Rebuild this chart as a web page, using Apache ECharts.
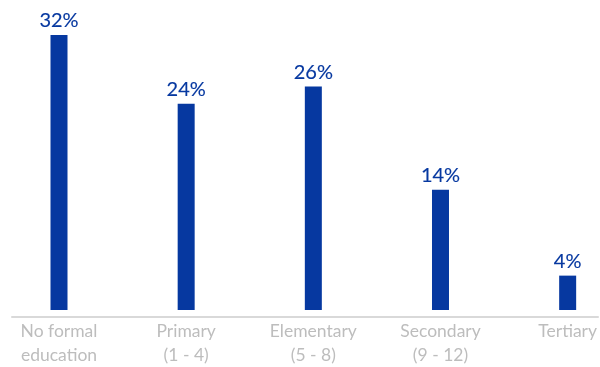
<!DOCTYPE html>
<html>
<head>
<meta charset="utf-8">
<script src="https://cdn.jsdelivr.net/npm/echarts@6/dist/echarts.min.js"></script>
<style>html,body{margin:0;padding:0;background:#fff}#c{width:600px;height:367px}</style>
</head>
<body>
<div id="c"></div>
<script>
const categories = ['No formal\neducation', 'Primary\n(1 - 4)', 'Elementary\n(5 - 8)', 'Secondary\n(9 - 12)', 'Tertiary'];
const values = [32, 24, 26, 14, 4];

const blue = '#0638a0';
const chart = echarts.init(document.getElementById('c'));
chart.setOption({
  animation: false,
  grid: [
    { left: 59, right: 26, top: 35, bottom: 50 },
    { left: 12, right: 2, top: 35, bottom: 50 }
  ],
  xAxis: [
    {
      type: 'category', gridIndex: 0, data: categories, boundaryGap: false,
      axisLine: { show: false }, axisTick: { show: false },
      axisLabel: { color: '#bdbdbd', fontFamily: 'Lato', fontSize: 17.5, lineHeight: 24, margin: 9, interval: 0 }
    },
    {
      type: 'value', gridIndex: 1, min: 0, max: 1,
      axisLine: { show: true, lineStyle: { color: '#d9d9d9', width: 2 } },
      axisTick: { show: false }, axisLabel: { show: false }, splitLine: { show: false }
    }
  ],
  yAxis: [
    { type: 'value', gridIndex: 0, min: 0, max: 32, show: false, splitLine: { show: false } },
    { type: 'value', gridIndex: 1, min: 0, max: 1, show: false, splitLine: { show: false } }
  ],
  series: [{
    type: 'bar', xAxisIndex: 0, yAxisIndex: 0, data: values, barWidth: 17,
    itemStyle: { color: blue },
    label: {
      show: true, position: 'top', distance: 4, formatter: '{c}%',
      color: blue, fontFamily: 'Lato', fontSize: 20, fontWeight: 'normal',
      textBorderColor: blue, textBorderWidth: 0.15
    }
  }]
});
</script>
</body>
</html>
